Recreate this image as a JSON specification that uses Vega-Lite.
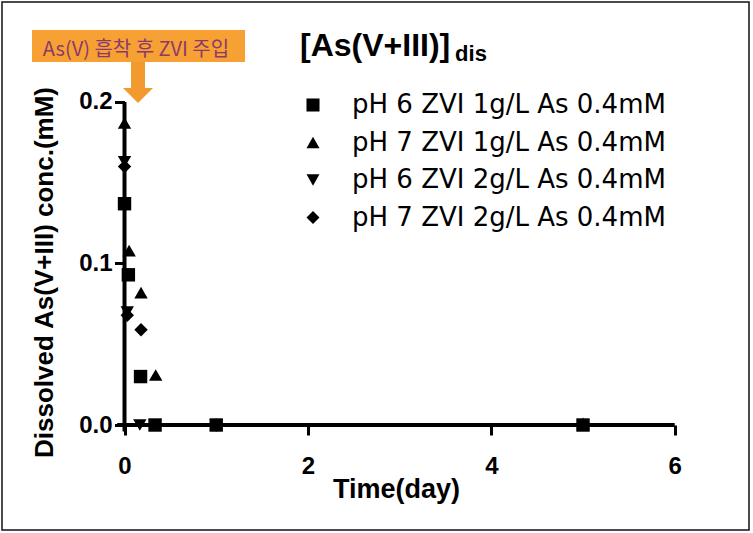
{
  "$schema": "https://vega.github.io/schema/vega-lite/v6.json",
  "width": 747,
  "height": 528,
  "autosize": "none",
  "padding": {"left": 2, "top": 2, "right": 4, "bottom": 3},
  "background": "white",
  "config": {
    "view": {"stroke": "#111111", "strokeWidth": 1.5},
    "axis": {"grid": false, "domain": false}
  },
  "datasets": {
    "points": [
      {"series": "pH 6 ZVI 1g/L As 0.4mM", "time": 0, "conc": 0.137},
      {"series": "pH 6 ZVI 1g/L As 0.4mM", "time": 0.042, "conc": 0.093},
      {"series": "pH 6 ZVI 1g/L As 0.4mM", "time": 0.175, "conc": 0.030},
      {"series": "pH 6 ZVI 1g/L As 0.4mM", "time": 0.333, "conc": 0.0},
      {"series": "pH 6 ZVI 1g/L As 0.4mM", "time": 1, "conc": 0.0},
      {"series": "pH 6 ZVI 1g/L As 0.4mM", "time": 5, "conc": 0.0},
      {"series": "pH 7 ZVI 1g/L As 0.4mM", "time": 0, "conc": 0.187},
      {"series": "pH 7 ZVI 1g/L As 0.4mM", "time": 0.05, "conc": 0.108},
      {"series": "pH 7 ZVI 1g/L As 0.4mM", "time": 0.18, "conc": 0.082},
      {"series": "pH 7 ZVI 1g/L As 0.4mM", "time": 0.34, "conc": 0.031},
      {"series": "pH 7 ZVI 1g/L As 0.4mM", "time": 1, "conc": 0.0},
      {"series": "pH 7 ZVI 1g/L As 0.4mM", "time": 5, "conc": 0.001},
      {"series": "pH 6 ZVI 2g/L As 0.4mM", "time": 0, "conc": 0.163},
      {"series": "pH 6 ZVI 2g/L As 0.4mM", "time": 0.03, "conc": 0.070},
      {"series": "pH 6 ZVI 2g/L As 0.4mM", "time": 0.167, "conc": 0.0},
      {"series": "pH 6 ZVI 2g/L As 0.4mM", "time": 0.333, "conc": 0.0},
      {"series": "pH 6 ZVI 2g/L As 0.4mM", "time": 1, "conc": 0.0},
      {"series": "pH 7 ZVI 2g/L As 0.4mM", "time": 0, "conc": 0.160},
      {"series": "pH 7 ZVI 2g/L As 0.4mM", "time": 0.03, "conc": 0.068},
      {"series": "pH 7 ZVI 2g/L As 0.4mM", "time": 0.18, "conc": 0.059},
      {"series": "pH 7 ZVI 2g/L As 0.4mM", "time": 1, "conc": 0.0}
    ]
  },
  "layer": [
    {
      "data": {"name": "points"},
      "mark": {"type": "point", "filled": true, "opacity": 1, "color": "black", "size": 180},
      "encoding": {
        "x": {
          "field": "time", "type": "quantitative",
          "scale": {"domain": [-1.336, 6.81], "nice": false, "zero": false},
          "axis": {
            "orient": "bottom", "offset": -105, "values": [0, 2, 4, 6], "format": "d",
            "ticks": true, "tickSize": 10, "tickWidth": 3, "tickColor": "black",
            "labelFont": "Liberation Sans", "labelFontWeight": "bold", "labelFontSize": 24, "labelColor": "black",
            "labelBaseline": "alphabetic", "labelPadding": 38,
            "title": "Time(day)", "titleFont": "Liberation Sans", "titleFontWeight": "bold", "titleFontSize": 27, "titleColor": "black",
            "titleX": 394, "titleY": 72, "titleBaseline": "alphabetic", "titleAnchor": "middle", "titleAlign": "center"
          }
        },
        "y": {
          "field": "conc", "type": "quantitative",
          "scale": {"domain": [-0.065, 0.2619], "nice": false, "zero": false},
          "axis": {
            "orient": "left", "offset": -122.5, "values": [0, 0.1, 0.2], "format": ".1f",
            "ticks": true, "tickSize": 10, "tickWidth": 3, "tickColor": "black",
            "labelFont": "Liberation Sans", "labelFontWeight": "bold", "labelFontSize": 24, "labelColor": "black",
            "labelBaseline": "middle", "labelPadding": 2.5,
            "title": "Dissolved As(V+III) conc.(mM)", "titleFont": "Liberation Sans", "titleFontWeight": "bold", "titleFontSize": 26, "titleColor": "black",
            "titleAngle": -90, "titleX": -80.5, "titleY": 270, "titleBaseline": "middle", "titleAlign": "center"
          }
        },
        "shape": {
          "field": "series", "type": "nominal",
          "scale": {
            "domain": ["pH 6 ZVI 1g/L As 0.4mM", "pH 7 ZVI 1g/L As 0.4mM", "pH 6 ZVI 2g/L As 0.4mM", "pH 7 ZVI 2g/L As 0.4mM"],
            "range": ["square", "triangle-up", "triangle-down", "diamond"]
          },
          "legend": {
            "orient": "none", "legendX": 298, "legendY": 90, "title": null, "padding": 0,
            "labelFont": "DejaVu Sans", "labelFontSize": 26, "labelColor": "black", "labelOffset": 26,
            "symbolSize": 170, "symbolFillColor": "black", "symbolStrokeWidth": 0, "rowPadding": 11.5,
            "labelLimit": 400
          }
        }
      }
    },
    {
      "data": {"values": [{}]},
      "mark": {"type": "rule", "color": "black", "strokeWidth": 4},
      "encoding": {
        "x": {"datum": 0, "type": "quantitative"},
        "y": {"datum": -0.004, "type": "quantitative"},
        "y2": {"datum": 0.2}
      }
    },
    {
      "data": {"values": [{}]},
      "mark": {"type": "rule", "color": "black", "strokeWidth": 4},
      "encoding": {
        "x": {"datum": -0.08, "type": "quantitative"},
        "x2": {"datum": 6.0},
        "y": {"datum": 0, "type": "quantitative"}
      }
    },
    {
      "data": {"values": [{}]},
      "mark": {"type": "rect", "fill": "#F7A033"},
      "encoding": {
        "x": {"datum": -1.009, "type": "quantitative"},
        "x2": {"datum": 1.314},
        "y": {"datum": 0.2446, "type": "quantitative"},
        "y2": {"datum": 0.2248}
      }
    },
    {
      "data": {"values": [{"label": "As(V) 흡착 후 ZVI 주입"}]},
      "mark": {"type": "text", "font": "Noto Sans CJK KR", "fontSize": 20, "color": "#8B3A6B", "align": "center", "baseline": "alphabetic"},
      "encoding": {
        "x": {"datum": 0.125, "type": "quantitative"},
        "y": {"datum": 0.2282, "type": "quantitative"},
        "text": {"field": "label"}
      }
    },
    {
      "data": {"values": [{}]},
      "mark": {"type": "rect", "fill": "#F39A2E"},
      "encoding": {
        "x": {"datum": 0.0709, "type": "quantitative"},
        "x2": {"datum": 0.2236},
        "y": {"datum": 0.2248, "type": "quantitative"},
        "y2": {"datum": 0.2075}
      }
    },
    {
      "data": {"values": [{}]},
      "mark": {"type": "point", "filled": true, "opacity": 1, "color": "#F39A2E", "shape": "M-1,-0.5L1,-0.5L0,0.5Z", "size": 900},
      "encoding": {
        "x": {"datum": 0.147, "type": "quantitative"},
        "y": {"datum": 0.204, "type": "quantitative"}
      }
    },
    {
      "data": {"values": [{"label": "[As(V+III)]"}]},
      "mark": {"type": "text", "font": "Liberation Sans", "fontWeight": "bold", "fontSize": 32, "color": "black", "align": "left", "baseline": "alphabetic"},
      "encoding": {
        "x": {"datum": 1.914, "type": "quantitative"},
        "y": {"datum": 0.2285, "type": "quantitative"},
        "text": {"field": "label"}
      }
    },
    {
      "data": {"values": [{"label": "dis"}]},
      "mark": {"type": "text", "font": "Liberation Sans", "fontWeight": "bold", "fontSize": 22, "color": "black", "align": "left", "baseline": "alphabetic"},
      "encoding": {
        "x": {"datum": 3.605, "type": "quantitative"},
        "y": {"datum": 0.2252, "type": "quantitative"},
        "text": {"field": "label"}
      }
    }
  ]
}
